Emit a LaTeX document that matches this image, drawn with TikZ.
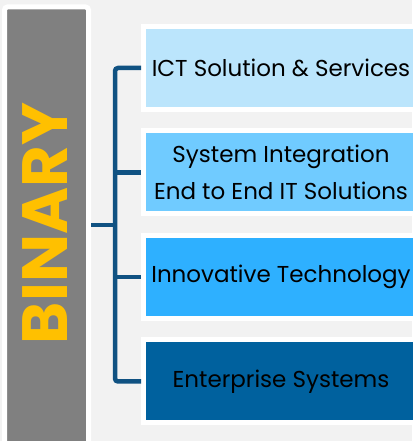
\documentclass[tikz,border=0pt]{standalone}
\usepackage{fontspec}
\setmainfont{Poppins}
\usetikzlibrary{positioning}

\definecolor{pagegray}{RGB}{242,242,242}
\definecolor{panelgray}{RGB}{128,128,128}
\definecolor{binaryyellow}{RGB}{255,192,0}
\definecolor{linkblue}{RGB}{16,82,130}
\definecolor{paleblue}{RGB}{187,229,252}
\definecolor{lightblue}{RGB}{112,203,255}
\definecolor{midblue}{RGB}{46,176,255}
\definecolor{deepblue}{RGB}{0,97,158}

\tikzset{
    itembox/.style={draw=white, line width=5pt, minimum width=275pt, minimum height=83pt,
        inner sep=0pt, align=center, text=black, font=\fontsize{23}{37}\selectfont},
    link/.style={linkblue, line width=4.5pt}
}

\begin{document}
\begin{tikzpicture}[x=1pt,y=1pt]
    \useasboundingbox (0,0) rectangle (412,441);
    \fill[pagegray] (0,0) rectangle (412,441);

    % Left panel
    \node[draw=white, line width=5pt, fill=panelgray, rounded corners=3pt, inner sep=0pt,
        minimum width=84pt, minimum height=460pt, anchor=north] (panel) at (46.5,436.5) {};
    \node[rotate=90, text=binaryyellow, font=\bfseries\fontsize{64}{64}\selectfont] (binary) at (45,217.5) {BINARY};

    % Service boxes
    \node[itembox, fill=paleblue] (ict) at (281,373) {ICT Solution \& Services};
    \node[itembox, fill=lightblue, below=16.5pt of ict] (sysint) {System Integration\\End to End IT Solutions};
    \node[itembox, fill=midblue, below=16.5pt of sysint] (innov) {Innovative Technology};
    \node[itembox, fill=deepblue, below=16.5pt of innov] (enterprise) {Enterprise Systems};

    % Connectors
    \coordinate (trunk) at (115,216);
    \draw[link] (panel.east |- trunk) -- (trunk);
    \draw[link, rounded corners=3pt] (ict.west) -| (trunk) |- (enterprise.west);
    \draw[link] (trunk |- sysint.west) -- (sysint.west);
    \draw[link] (trunk |- innov.west) -- (innov.west);

\end{tikzpicture}
\end{document}
